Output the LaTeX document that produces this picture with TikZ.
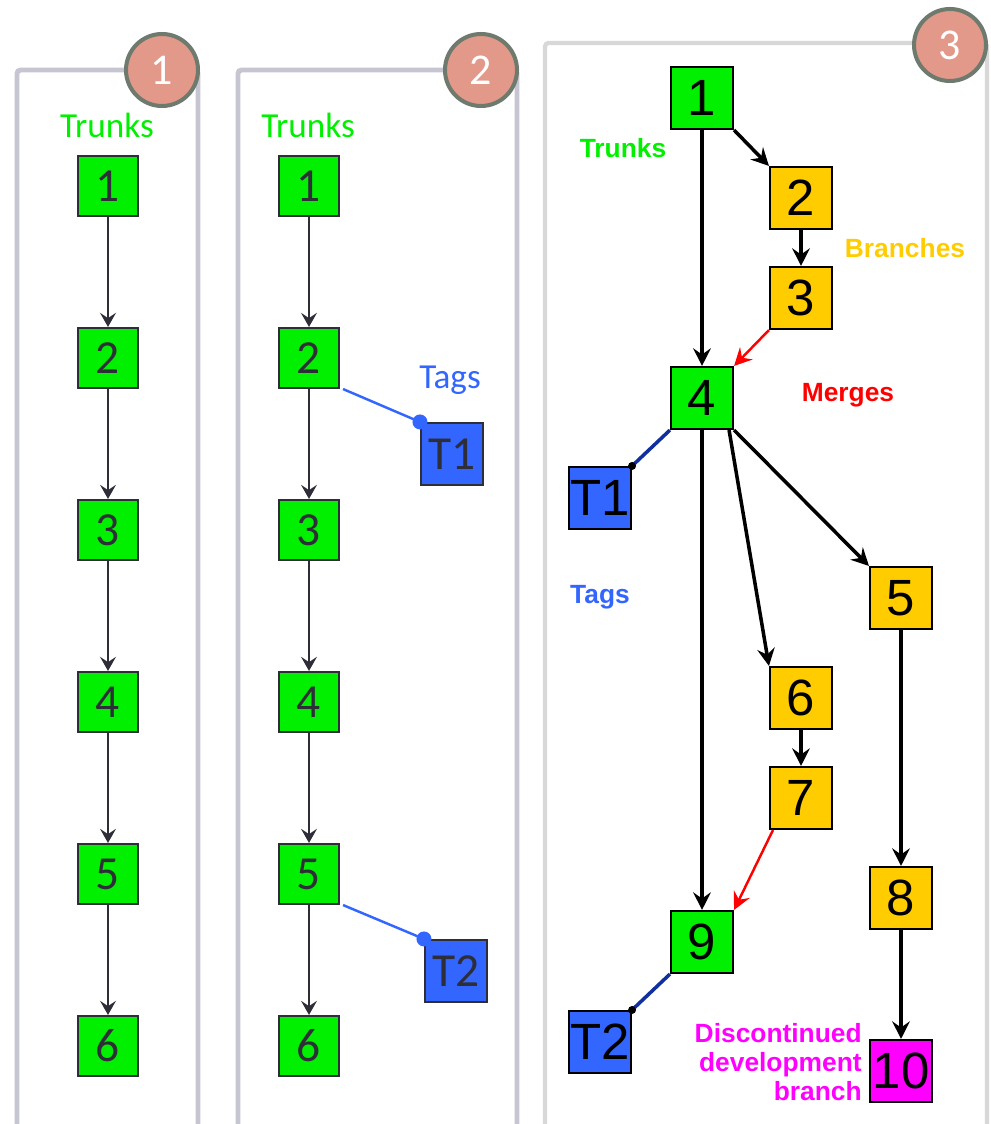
\documentclass[tikz,border=0pt]{standalone}
\usepackage{fontspec}
\setmainfont{Carlito}
\newfontfamily\helv{Liberation Sans}
\usetikzlibrary {arrows.meta}

\definecolor{trunkgreen}{HTML}{00F000}
\definecolor{branchyellow}{HTML}{FFCC00}
\definecolor{tagblue}{HTML}{3366FF}
\definecolor{tagdark}{HTML}{1030A0}
\definecolor{devpink}{HTML}{FF00FF}
\definecolor{framegray}{HTML}{C6C6D2}
\definecolor{framelight}{HTML}{D8D8D8}
\definecolor{badgefill}{HTML}{E3998A}
\definecolor{badgeline}{HTML}{6E7A6E}
\definecolor{ink}{HTML}{2E2E38}

\begin{document}
\begin{tikzpicture}[x=0.02cm, y=-0.02cm, >=Stealth,
    frame/.style={line width=2.8pt, draw=framegray, rounded corners=2pt},
    badge/.style={circle, minimum size=1.44cm, inner sep=0pt, fill=badgefill,
        draw=badgeline, line width=2.3pt, text=white, font=\fontsize{25}{25}\selectfont},
    box/.style={rectangle, minimum size=1.2cm, inner sep=0pt, draw=ink,
        line width=1.2pt, text=ink, font=\fontsize{27}{27}\selectfont},
    trunk/.style={box, fill=trunkgreen},
    tagbox/.style={box, fill=tagblue, minimum size=1.24cm},
    flow/.style={draw=ink, line width=1.6pt,
        -{Stealth[length=8pt, width=9pt, inset=3pt]}},
    taglink/.style={draw=tagblue, line width=1.4pt},
    cbox/.style={rectangle, minimum size=1.24cm, inner sep=0pt, draw=black,
        line width=1.2pt, font=\helv\fontsize{29}{29}\selectfont},
    br/.style={draw=black, line width=2pt,
        -{Stealth[length=10pt, width=10pt, inset=3.5pt]}},
    mg/.style={draw=red, line width=1.4pt,
        -{Stealth[length=10pt, width=10pt, inset=3.5pt]}},
    tg/.style={draw=tagdark, line width=2pt},
    word/.style={font=\helv\bfseries\fontsize{15}{16.5}\selectfont}]
    \useasboundingbox (0,0) rectangle (990,1124);

    % panel 1
    \draw[frame] (17,1130) -- (17,70) -- (198,70) -- (198,1130);
    \node[badge] (n1) at (162,70) {1};
    \node[text=trunkgreen, font=\fontsize{20}{20}\selectfont] (tr1) at (107,125) {Trunks};
    \foreach \i in {1,...,6}
        \node[trunk] (a\i) at (108,{186+172*(\i-1)}) {\i};
    \foreach \i [evaluate=\i as \j using int(\i+1)] in {1,...,5}
        \draw[flow] (a\i) -- (a\j);

    % panel 2
    \draw[frame] (238,1130) -- (238,70) -- (517,70) -- (517,1130);
    \node[badge] (n2) at (481,70) {2};
    \node[text=trunkgreen, font=\fontsize{20}{20}\selectfont] (tr2) at (308,125) {Trunks};
    \foreach \i in {1,...,6}
        \node[trunk] (b\i) at (309,{186+172*(\i-1)}) {\i};
    \foreach \i [evaluate=\i as \j using int(\i+1)] in {1,...,5}
        \draw[flow] (b\i) -- (b\j);
    \node[text=tagblue, font=\fontsize{20}{20}\selectfont] (tg2) at (450,380) {Tags};
    \node[tagbox] (bt1) at (452,454) {T1};
    \node[tagbox] (bt2) at (456,971) {T2};
    \draw[taglink] ([xshift=0.06cm]b2.south east) -- (bt1.north west);
    \draw[taglink] ([xshift=0.06cm]b5.south east) -- (bt2.north west);
    \fill[tagblue] (bt1.north west) circle (0.15cm);
    \fill[tagblue] (bt2.north west) circle (0.15cm);

    % panel 3
    \draw[frame, draw=framelight, line width=2.4pt] (545,1130) -- (545,43) -- (987,43) -- (987,1130);
    \node[badge] (n3) at (950,45) {3};

    \node[cbox, fill=trunkgreen] (c1) at (702,98) {1};
    \node[cbox, fill=branchyellow] (c2) at (801,198) {2};
    \node[cbox, fill=branchyellow] (c3) at (801,298) {3};
    \node[cbox, fill=trunkgreen] (c4) at (702,398) {4};
    \node[cbox, fill=tagblue] (ct1) at (600,498) {T1};
    \node[cbox, fill=branchyellow] (c5) at (901,598) {5};
    \node[cbox, fill=branchyellow] (c6) at (801,698) {6};
    \node[cbox, fill=branchyellow] (c7) at (801,798) {7};
    \node[cbox, fill=branchyellow] (c8) at (901,898) {8};
    \node[cbox, fill=trunkgreen] (c9) at (702,942) {9};
    \node[cbox, fill=tagblue] (ct2) at (600,1042) {T2};
    \node[cbox, fill=devpink] (c10) at (901,1071) {10};

    \node[word, text=trunkgreen] (lt) at (623,148) {Trunks};
    \node[word, text=branchyellow] (lb) at (905,248) {Branches};
    \node[word, text=red] (lm) at (848,395) {Merges};
    \node[word, text=tagblue] (lg) at (600,597) {Tags};
    \node[word, text=devpink, align=right, anchor=east, inner sep=0pt] (ld) at (862,1062)
        {Discontinued\\development\\branch};

    \draw[br] (c1) -- (c4);
    \draw[br] (c1.south east) -- (c2.north west);
    \draw[br] (c2) -- (c3);
    \draw[mg] (c3.south west) -- (c4.north east);
    \draw[br] (c4.south east) -- (c5.north west);
    \draw[br] ([xshift=-0.1cm]c4.south east) -- (c6.north west);
    \draw[br] (c4) -- (c9);
    \draw[br] (c6) -- (c7);
    \draw[mg] ([xshift=0.08cm]c7.south west) -- (c9.north east);
    \draw[br] (c5) -- (c8);
    \draw[br] (c8) -- (c10);
    \draw[tg] (c4.south west) -- (ct1.north east);
    \draw[tg] (c9.south west) -- (ct2.north east);
    \fill (ct1.north east) circle (0.08cm);
    \fill (ct2.north east) circle (0.08cm);
\end{tikzpicture}
\end{document}
